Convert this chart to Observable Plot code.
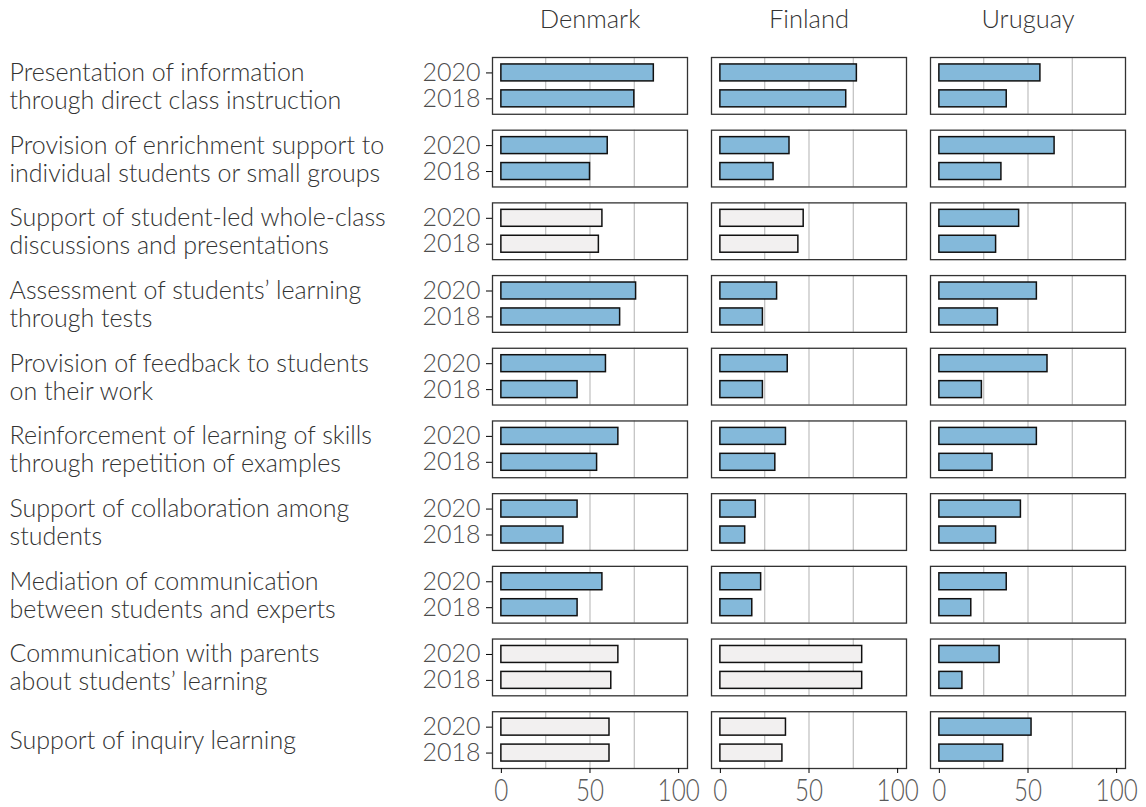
<!DOCTYPE html>
<html>
<head>
<meta charset="utf-8">
<script src="https://cdn.jsdelivr.net/npm/d3@7"></script>
<script src="https://cdn.jsdelivr.net/npm/@observablehq/plot@0.6"></script>
<style>
  html, body { margin: 0; padding: 0; background: #fff; }
  #chart svg { font-family: Lato, "Noto Sans", sans-serif; font-weight: 300; }
  g[aria-label="y-axis tick label"] { fill: #4d4d4d; }
  g[aria-label="x-axis tick label"] { fill: #595959; }
  g[aria-label="fy-axis tick label"] { fill: #333; }
  g[aria-label="fx-axis tick label"] { fill: #333; }
  g[aria-label="x-axis tick"], g[aria-label="y-axis tick"] { stroke: #333; }
</style>
</head>
<body>
<div id="chart"></div>
<script>
const countries = ["Denmark", "Finland", "Uruguay"];
const years = ["2020", "2018"];
const activities = [
  "Presentation of information through direct class instruction",
  "Provision of enrichment support to individual students or small groups",
  "Support of student-led whole-class discussions and presentations",
  "Assessment of students’ learning through tests",
  "Provision of feedback to students on their work",
  "Reinforcement of learning of skills through repetition of examples",
  "Support of collaboration among students",
  "Mediation of communication between students and experts",
  "Communication with parents about students’ learning",
  "Support of inquiry learning"
];
const activityLabels = [
  "Presentation of information\nthrough direct class instruction",
  "Provision of enrichment support to\nindividual students or small groups",
  "Support of student-led whole-class\ndiscussions and presentations",
  "Assessment of students’ learning\nthrough tests",
  "Provision of feedback to students\non their work",
  "Reinforcement of learning of skills\nthrough repetition of examples",
  "Support of collaboration among\nstudents",
  "Mediation of communication\nbetween students and experts",
  "Communication with parents\nabout students’ learning",
  "Support of inquiry learning"
];
const denmark2020 = [86, 60, 57, 76, 59, 66, 43, 57, 66, 61];
const denmark2018 = [75, 50, 55, 67, 43, 54, 35, 43, 62, 61];
const finland2020 = [77, 39, 47, 32, 38, 37, 20, 23, 80, 37];
const finland2018 = [71, 30, 44, 24, 24, 31, 14, 18, 80, 35];
const uruguay2020 = [57, 65, 45, 55, 61, 55, 46, 38, 34, 52];
const uruguay2018 = [38, 35, 32, 33, 24, 30, 32, 18, 13, 36];
const denmarkChange = ["yes", "yes", "no", "yes", "yes", "yes", "yes", "yes", "no", "no"];
const finlandChange = ["yes", "yes", "no", "yes", "yes", "yes", "yes", "yes", "no", "no"];
const uruguayChange = ["yes", "yes", "yes", "yes", "yes", "yes", "yes", "yes", "yes", "yes"];
const xTicks = [0, 50, 100];
const gridValues = [25, 50, 75];

const series = {
  Denmark: {"2020": denmark2020, "2018": denmark2018, change: denmarkChange},
  Finland: {"2020": finland2020, "2018": finland2018, change: finlandChange},
  Uruguay: {"2020": uruguay2020, "2018": uruguay2018, change: uruguayChange}
};
const rows = [];
for (const c of countries) {
  activities.forEach((a, i) => {
    for (const y of years) {
      rows.push({country: c, activity: a, year: y, value: series[c][y][i], change: series[c].change[i]});
    }
  });
}
const labelOf = new Map(activities.map((a, i) => [a, activityLabels[i]]));

const chart = Plot.plot({
  width: 1146,
  height: 807,
  marginLeft: 492,
  marginRight: 21,
  marginTop: 57,
  marginBottom: 39,
  fx: {domain: countries, paddingInner: 0.1096, paddingOuter: 0, round: false, label: null, axis: null},
  fy: {domain: activities, paddingInner: 0.219, paddingOuter: 0, round: false, label: null, axis: null},
  x: {domain: [-5, 105], label: null, axis: null},
  y: {domain: years, paddingInner: 0.346, paddingOuter: 0.268, round: false, label: null, axis: null},
  color: {domain: ["yes", "no"], range: ["#84b9da", "#f2f0f0"]},
  marks: [
    Plot.gridX(gridValues, {stroke: "#c4c4c4", strokeOpacity: 1, strokeWidth: 1.3}),
    Plot.barX(rows, {x: "value", y: "year", fx: "country", fy: "activity", fill: "change", stroke: "#111", strokeWidth: 1.5}),
    Plot.frame({stroke: "#333", strokeWidth: 1.3}),
    Plot.axisX({ticks: xTicks, anchor: "bottom", tickSize: 5, tickPadding: 5, fontSize: 31, label: null}),
    Plot.axisY({anchor: "left", tickSize: 6, tickPadding: 6, fontSize: 25, label: null}),
    Plot.axisFx({anchor: "top", tickSize: 0, tickPadding: 30, fontSize: 25.5, label: null}),
    Plot.axisFy({anchor: "left", tickSize: 0, tickPadding: 483, textAnchor: "start", fontSize: 25, lineHeight: 1.12, label: null, tickFormat: (d) => labelOf.get(d)})
  ]
});
document.getElementById("chart").appendChild(chart);
chart.querySelectorAll('g[aria-label="x-axis tick label"] text').forEach((t) => {
  const tr = t.getAttribute("transform") || "";
  t.setAttribute("transform", tr + " scale(0.78,1)");
});
</script>
</body>
</html>
